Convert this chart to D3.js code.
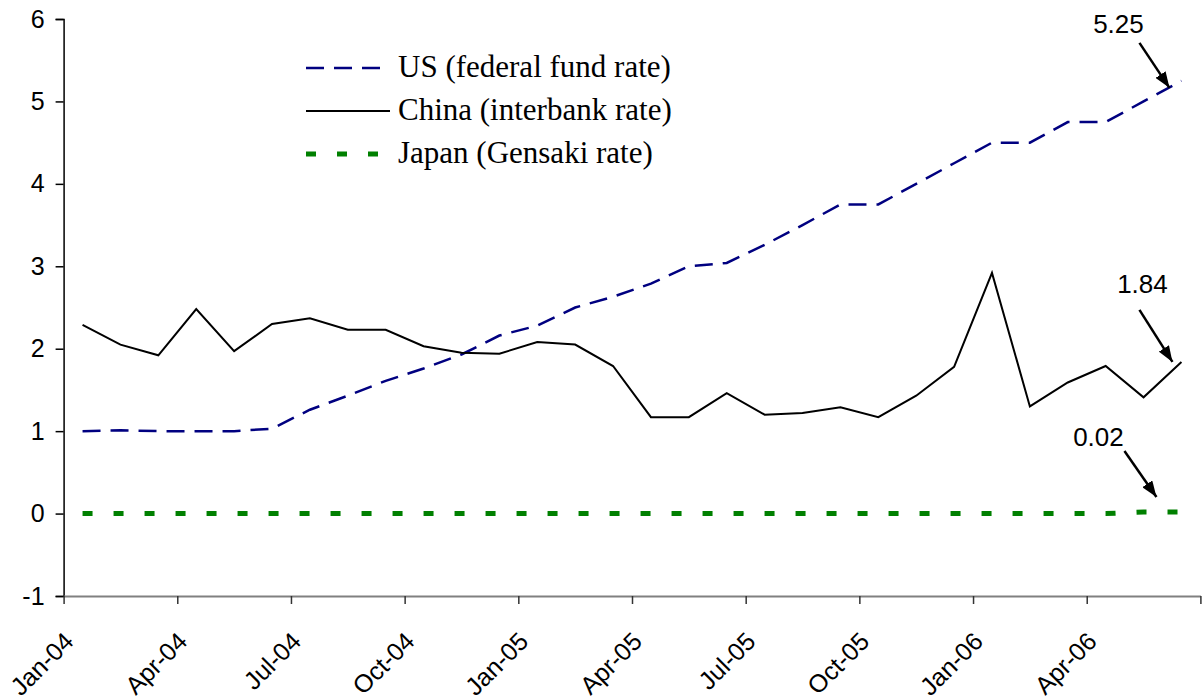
<!DOCTYPE html>
<html>
<head>
<meta charset="utf-8">
<script src="https://cdn.jsdelivr.net/npm/d3@7/dist/d3.min.js"></script>
<style>
  body { margin: 0; background: #fff; }
  svg { display: block; }
</style>
</head>
<body>
<svg id="chart" width="1204" height="700"></svg>
<script>
'use strict';

/* monthly categories, Jan-04 .. Jun-06 */
const months = ['Jan-04','Feb-04','Mar-04','Apr-04','May-04','Jun-04','Jul-04','Aug-04','Sep-04','Oct-04','Nov-04','Dec-04',
                'Jan-05','Feb-05','Mar-05','Apr-05','May-05','Jun-05','Jul-05','Aug-05','Sep-05','Oct-05','Nov-05','Dec-05',
                'Jan-06','Feb-06','Mar-06','Apr-06','May-06','Jun-06'];

const usRate    = [1.00, 1.01, 1.00, 1.00, 1.00, 1.03, 1.26, 1.43, 1.61, 1.76, 1.93, 2.16,
                   2.28, 2.50, 2.63, 2.79, 3.00, 3.04, 3.26, 3.50, 3.75, 3.75, 4.00, 4.25,
                   4.50, 4.50, 4.75, 4.75, 5.00, 5.25];
const chinaRate = [2.29, 2.05, 1.92, 2.48, 1.97, 2.30, 2.37, 2.23, 2.23, 2.03, 1.95, 1.94,
                   2.08, 2.05, 1.79, 1.17, 1.17, 1.46, 1.20, 1.22, 1.29, 1.17, 1.43, 1.78,
                   2.92, 1.30, 1.59, 1.79, 1.41, 1.84];
const japanRate = [0, 0, 0, 0, 0, 0, 0, 0, 0, 0, 0, 0,
                   0, 0, 0, 0, 0, 0, 0, 0, 0, 0, 0, 0,
                   0, 0, 0, 0, 0.02, 0.02];

const yTicks = [-1, 0, 1, 2, 3, 4, 5, 6];

const series = [
  { name: 'US (federal fund rate)',  values: usRate,    color: '#000080', width: 2.5, dash: '18,10', lastLabel: '5.25' },
  { name: 'China (interbank rate)',  values: chinaRate, color: '#000000', width: 2,   dash: null,    lastLabel: '1.84' },
  { name: 'Japan (Gensaki rate)',    values: japanRate, color: '#008000', width: 5,   dash: '10,21', lastLabel: '0.02' }
];

/* call-out placement relative to the last point: text, arrow start, arrow tip */
const callouts = [
  { tx: -63, ty: -48, sx: -42, sy: -38, ex: -12, ey: 7 },
  { tx: -39, ty: -69, sx: -42, sy: -52, ex: -9,  ey: 0 },
  { tx: -83, ty: -66, sx: -57, sy: -61, ex: -25, ey: -15 }
];

const svg = d3.select('#chart');
const x = d3.scaleLinear().domain([0, months.length]).range([63.6, 1200.4]);
const y = d3.scaleLinear().domain([-1, 6]).range([596, 19]);
const px = i => x(i + 0.5);

/* Y axis */
const yAxis = svg.append('g').attr('transform', `translate(${x(0)},0)`)
  .call(d3.axisLeft(y).tickValues(yTicks).tickSize(8).tickPadding(11).tickFormat(d => String(d)));
yAxis.select('.domain').attr('stroke', '#000').attr('stroke-width', 1.5);
yAxis.selectAll('.tick line').attr('stroke', '#000').attr('stroke-width', 1.5);
yAxis.selectAll('text').attr('font-family', '"Liberation Sans", Arial, sans-serif')
  .attr('font-size', 25).attr('fill', '#000');

/* X axis */
const xTickVals = d3.range(0, months.length + 1, 3);
const xAxis = svg.append('g').attr('transform', `translate(0,${y(-1)})`)
  .call(d3.axisBottom(x).tickValues(xTickVals).tickSize(8).tickSizeOuter(0)
    .tickFormat(i => months[i] || ''));
xAxis.select('.domain').attr('stroke', '#808080').attr('stroke-width', 2);
xAxis.selectAll('.tick line').attr('stroke', '#333').attr('stroke-width', 1.5);
xAxis.selectAll('text')
  .attr('font-family', '"Liberation Sans", Arial, sans-serif')
  .attr('font-size', 25).attr('fill', '#000')
  .attr('text-anchor', 'end').attr('dy', null).attr('y', null)
  .attr('transform', 'translate(11,47) rotate(-45)');

/* lines */
const line = d3.line().x((d, i) => px(i)).y(d => y(d));
series.forEach(s => {
  svg.append('path').datum(s.values)
    .attr('d', line)
    .attr('fill', 'none')
    .attr('stroke', s.color)
    .attr('stroke-width', s.width)
    .attr('stroke-dasharray', s.dash)
    .attr('stroke-linejoin', 'miter');
});

/* legend */
const legend = svg.append('g').attr('transform', 'translate(306,68)');
series.forEach((s, k) => {
  const row = legend.append('g').attr('transform', `translate(0,${k * 43})`);
  row.append('line').attr('x1', 0).attr('x2', 84).attr('y1', 0).attr('y2', 0)
    .attr('stroke', s.color).attr('stroke-width', s.width).attr('stroke-dasharray', s.dash);
  row.append('text').attr('x', 92).attr('y', 9)
    .attr('font-family', '"Liberation Serif", "Times New Roman", serif')
    .attr('font-size', 31).attr('fill', '#000').text(s.name);
});

/* call-outs with arrows */
svg.append('defs').append('marker').attr('id', 'arrow')
  .attr('viewBox', '0 -6 16 12').attr('refX', 16).attr('refY', 0)
  .attr('markerUnits', 'userSpaceOnUse').attr('markerWidth', 16).attr('markerHeight', 12)
  .attr('orient', 'auto')
  .append('path').attr('d', 'M0,-6L16,0L0,6Z').attr('fill', '#000');

series.forEach((s, k) => {
  const last = s.values.length - 1;
  const cx = px(last), cy = y(s.values[last]);
  const c = callouts[k];
  svg.append('text').attr('x', cx + c.tx).attr('y', cy + c.ty)
    .attr('text-anchor', 'middle')
    .attr('font-family', '"Liberation Sans", Arial, sans-serif')
    .attr('font-size', 26).attr('fill', '#000').text(s.lastLabel);
  svg.append('line')
    .attr('x1', cx + c.sx).attr('y1', cy + c.sy)
    .attr('x2', cx + c.ex).attr('y2', cy + c.ey)
    .attr('stroke', '#000').attr('stroke-width', 2.5)
    .attr('marker-end', 'url(#arrow)');
});
</script>
</body>
</html>
